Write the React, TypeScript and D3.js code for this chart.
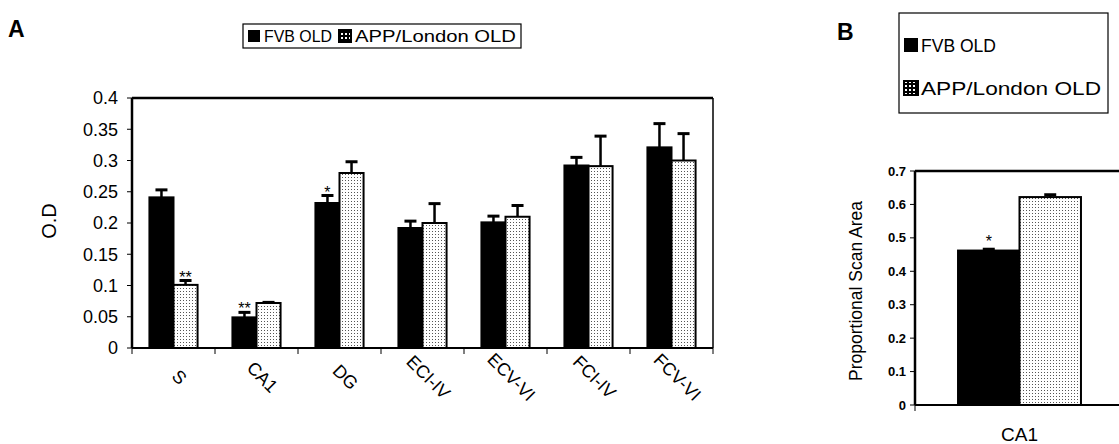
import * as d3 from 'd3';
import React from 'react';

// panel A data
const regions = ['S', 'CA1', 'DG', 'ECI-IV', 'ECV-VI', 'FCI-IV', 'FCV-VI'];
const seriesNames = ['FVB OLD', 'APP/London OLD'];
const fvbOD = [0.241, 0.049, 0.232, 0.192, 0.201, 0.292, 0.321];
const fvbErr = [0.012, 0.008, 0.012, 0.011, 0.01, 0.013, 0.038];
const appOD = [0.101, 0.072, 0.28, 0.2, 0.21, 0.291, 0.3];
const appErr = [0.007, 0.001, 0.018, 0.031, 0.018, 0.048, 0.043];
const fvbStars = ['', '**', '*', '', '', '', ''];
const appStars = ['**', '', '', '', '', '', ''];
const ticksA = [0, 0.05, 0.1, 0.15, 0.2, 0.25, 0.3, 0.35, 0.4];

// panel B data
const regionB = ['CA1'];
const fvbArea = [0.462];
const fvbAreaErr = [0.004];
const appArea = [0.622];
const appAreaErr = [0.007];
const ticksB = [0, 0.1, 0.2, 0.3, 0.4, 0.5, 0.6, 0.7];

const font = 'Liberation Sans, Arial, sans-serif';

function Bar({ x, w, y0, y1, yErr, dotted }) {
  return (
    <g>
      <line x1={x + w / 2} x2={x + w / 2} y1={y1} y2={yErr} stroke="#000" strokeWidth={2.5} />
      <line x1={x + w / 2 - 6} x2={x + w / 2 + 6} y1={yErr} y2={yErr} stroke="#000" strokeWidth={3} />
      <rect x={x} y={y1} width={w} height={y0 - y1}
        fill={dotted ? 'url(#dots)' : '#000'} stroke="#000" strokeWidth={2} />
    </g>
  );
}

function PanelA() {
  const left = 132, right = 713, top = 98, bottom = 348;
  const y = d3.scaleLinear().domain([0, 0.4]).range([bottom, top]);
  const x0 = d3.scaleBand().domain(regions).range([left, right]).paddingInner(0.42).paddingOuter(0.21);
  const x1 = d3.scaleBand().domain(seriesNames).range([0, x0.bandwidth()]);
  const step = x0.step();
  const bw = x1.bandwidth();

  return (
    <g>
      <text x={8} y={37} fontFamily={font} fontWeight="bold" fontSize={23}>A</text>
      {/* legend */}
      <rect x={243} y={24} width={278} height={24} fill="#fff" stroke="#000" strokeWidth={1.2} />
      <rect x={248} y={30} width={12} height={12} fill="#000" />
      <text x={264} y={42} fontFamily={font} fontSize={17} textLength={68} lengthAdjust="spacingAndGlyphs">FVB OLD</text>
      <rect x={339} y={30} width={12} height={12} fill="url(#dotsLeg)" stroke="#000" strokeWidth={2} />
      <text x={355} y={42} fontFamily={font} fontSize={17} textLength={161} lengthAdjust="spacingAndGlyphs">APP/London OLD</text>

      {/* frame */}
      <line x1={left} x2={right} y1={top} y2={top} stroke="#000" strokeWidth={2.5} />
      <line x1={right} x2={right} y1={top} y2={bottom} stroke="#000" strokeWidth={1.5} />

      {regions.map((r, i) => {
        const gx = x0(r);
        return (
          <g key={r}>
            <Bar x={gx + x1(seriesNames[0])} w={bw} y0={bottom} y1={y(fvbOD[i])} yErr={y(fvbOD[i] + fvbErr[i])} dotted={false} />
            <Bar x={gx + x1(seriesNames[1])} w={bw} y0={bottom} y1={y(appOD[i])} yErr={y(appOD[i] + appErr[i])} dotted={true} />
            {fvbStars[i] && (
              <text x={gx + x1(seriesNames[0]) + bw / 2} y={y(fvbOD[i] + fvbErr[i]) + 2} textAnchor="middle"
                fontFamily={font} fontSize={16}>{fvbStars[i]}</text>
            )}
            {appStars[i] && (
              <text x={gx + x1(seriesNames[1]) + bw / 2} y={y(appOD[i] + appErr[i]) + 2} textAnchor="middle"
                fontFamily={font} fontSize={16}>{appStars[i]}</text>
            )}
            <text transform={`translate(${gx + x0.bandwidth() / 2 + 6},${bottom + 29}) rotate(45)`}
              textAnchor="middle" dy="0.35em" fontFamily={font} fontSize={18}>{r}</text>
          </g>
        );
      })}

      {/* y axis */}
      <line x1={left} x2={left} y1={top} y2={bottom} stroke="#000" strokeWidth={2.5} />
      {ticksA.map((t) => (
        <g key={t}>
          <line x1={left - 5} x2={left} y1={y(t)} y2={y(t)} stroke="#000" strokeWidth={1} />
          <text x={left - 14} y={y(t)} dy="0.35em" textAnchor="end" fontFamily={font} fontSize={18}>{String(t)}</text>
        </g>
      ))}
      <text transform={`translate(56,${(top + bottom) / 2 - 2}) rotate(-90)`} textAnchor="middle"
        fontFamily={font} fontSize={20}>O.D</text>

      {/* x axis */}
      <line x1={left} x2={right} y1={bottom} y2={bottom} stroke="#000" strokeWidth={2} />
      {d3.range(regions.length + 1).map((i) => (
        <line key={i} x1={left + i * step} x2={left + i * step} y1={bottom} y2={bottom + 6} stroke="#000" strokeWidth={1} />
      ))}
    </g>
  );
}

function PanelB() {
  const left = 915, right = 1124, top = 171, bottom = 405;
  const y = d3.scaleLinear().domain([0, 0.7]).range([bottom, top]);
  const x0 = d3.scaleBand().domain(regionB).range([left, right]).paddingOuter(0.35);
  const x1 = d3.scaleBand().domain(seriesNames).range([0, x0.bandwidth()]);
  const bw = x1.bandwidth();
  const gx = x0('CA1');

  return (
    <g>
      <text x={837} y={40} fontFamily={font} fontWeight="bold" fontSize={23}>B</text>
      <rect x={899} y={13} width={209} height={100} fill="#fff" stroke="#000" strokeWidth={1.2} />
      <rect x={904} y={38} width={14} height={14} fill="#000" />
      <text x={921} y={52} fontFamily={font} fontSize={19} textLength={75} lengthAdjust="spacingAndGlyphs">FVB OLD</text>
      <rect x={904} y={81} width={14} height={14} fill="url(#dotsLeg)" stroke="#000" strokeWidth={2} />
      <text x={921} y={95} fontFamily={font} fontSize={19} textLength={180} lengthAdjust="spacingAndGlyphs">APP/London OLD</text>

      <line x1={left} x2={right} y1={top} y2={top} stroke="#000" strokeWidth={2.5} />

      <Bar x={gx + x1(seriesNames[0])} w={bw} y0={bottom} y1={y(fvbArea[0])} yErr={y(fvbArea[0] + fvbAreaErr[0])} dotted={false} />
      <Bar x={gx + x1(seriesNames[1])} w={bw} y0={bottom} y1={y(appArea[0])} yErr={y(appArea[0] + appAreaErr[0])} dotted={true} />
      <text x={gx + x1(seriesNames[0]) + bw / 2} y={y(fvbArea[0]) - 4} textAnchor="middle"
        fontFamily={font} fontSize={16}>*</text>

      <line x1={left} x2={left} y1={top} y2={bottom} stroke="#000" strokeWidth={2.5} />
      {ticksB.map((t) => (
        <g key={t}>
          <line x1={left - 5} x2={left} y1={y(t)} y2={y(t)} stroke="#000" strokeWidth={1} />
          <text x={left - 9} y={y(t)} dy="0.35em" textAnchor="end" fontFamily={font} fontWeight="bold" fontSize={13}>{String(t)}</text>
        </g>
      ))}
      <text transform={`translate(862,${(top + bottom) / 2 + 3}) rotate(-90)`} textAnchor="middle"
        fontFamily={font} fontSize={17.5}>Proportional Scan Area</text>

      <line x1={left} x2={right} y1={bottom} y2={bottom} stroke="#000" strokeWidth={2} />
      <line x1={left} x2={left} y1={bottom} y2={bottom + 6} stroke="#000" strokeWidth={1} />
      <text x={gx + x0.bandwidth() / 2} y={441} textAnchor="middle" fontFamily={font} fontSize={19}>CA1</text>
    </g>
  );
}

export default function App() {
  return (
    <svg width={1119} height={444} style={{ display: 'block', position: 'absolute', left: 0, top: 0, background: '#fff' }}>
      <defs>
        <pattern id="dots" width={3} height={3} patternUnits="userSpaceOnUse">
          <rect width={3} height={3} fill="#fff" />
          <rect width={1} height={1} fill="#555" />
        </pattern>
        <pattern id="dotsLeg" width={4} height={4} patternUnits="userSpaceOnUse">
          <rect width={4} height={4} fill="#000" />
          <rect x={1} y={1} width={2} height={2} fill="#fff" />
        </pattern>
      </defs>
      <rect width={1119} height={444} fill="#fff" />
      <PanelA />
      <PanelB />
    </svg>
  );
}
